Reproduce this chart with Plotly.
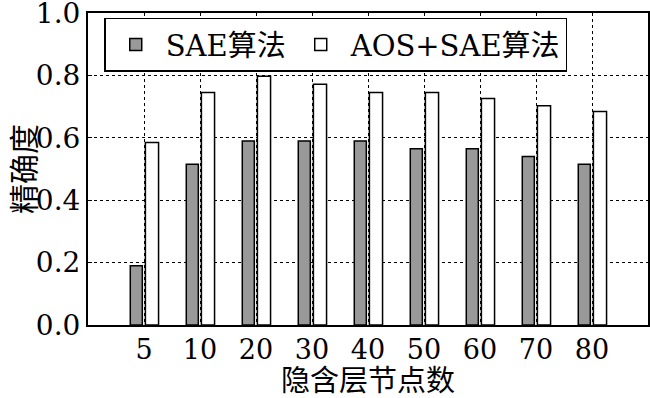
import plotly.graph_objects as go

categories = ["5", "10", "20", "30", "40", "50", "60", "70", "80"]
sae = [0.19, 0.515, 0.59, 0.59, 0.59, 0.565, 0.565, 0.54, 0.515]
aos_sae = [0.585, 0.745, 0.797, 0.772, 0.745, 0.745, 0.726, 0.703, 0.684]
y_ticks = [0.0, 0.2, 0.4, 0.6, 0.8, 1.0]

serif = "DejaVu Serif"
mixed = "DejaVu Serif, Noto Sans CJK SC"

fig = go.Figure()
fig.add_trace(go.Bar(
    x=categories, y=sae, name="SAE算法",
    marker=dict(color="#999999", line=dict(color="black", width=1.5)),
    width=0.215, offset=-0.245,
))
fig.add_trace(go.Bar(
    x=categories, y=aos_sae, name="AOS+SAE算法",
    marker=dict(color="white", line=dict(color="black", width=1.5)),
    width=0.235, offset=0.025,
))

fig.update_layout(
    width=650, height=398,
    margin=dict(l=88, r=2, t=13, b=73),
    plot_bgcolor="white", paper_bgcolor="white",
    barmode="group",
    font=dict(family=mixed, size=26, color="black"),
    legend=dict(
        orientation="h", x=0.029, y=0.985, xanchor="left", yanchor="top",
        bgcolor="white", bordercolor="black", borderwidth=1.5,
        font=dict(family=mixed, size=29, color="black"),
        itemwidth=50, tracegroupgap=0,
    ),
)
fig.update_xaxes(
    type="category", range=[-1, 9],
    showline=True, linecolor="black", linewidth=2, mirror=True,
    showgrid=True, gridcolor="black", griddash="dot", gridwidth=1,
    ticks="", tickfont=dict(family=serif, size=27),
    automargin=False,
)
fig.update_yaxes(
    range=[0, 1.0], tickvals=y_ticks, tickformat=".1f",
    showline=True, linecolor="black", linewidth=2, mirror=True,
    showgrid=True, gridcolor="black", griddash="dot", gridwidth=1,
    ticks="inside", ticklen=4, tickcolor="black",
    tickfont=dict(family=serif, size=28),
    ticklabeloverflow="allow",
    zeroline=False, automargin=False,
    title=dict(text="精确度", font=dict(family="Noto Sans CJK SC", size=30), standoff=21),
)
fig.add_annotation(
    text="隐含层节点数", xref="paper", yref="paper", x=0.5, y=-0.17,
    xanchor="center", yanchor="middle", showarrow=False,
    font=dict(family="Noto Sans CJK SC", size=29, color="black"),
)

fig.write_html("out.html", config={"displayModeBar": False},
               post_script="document.body.style.margin='0';")
